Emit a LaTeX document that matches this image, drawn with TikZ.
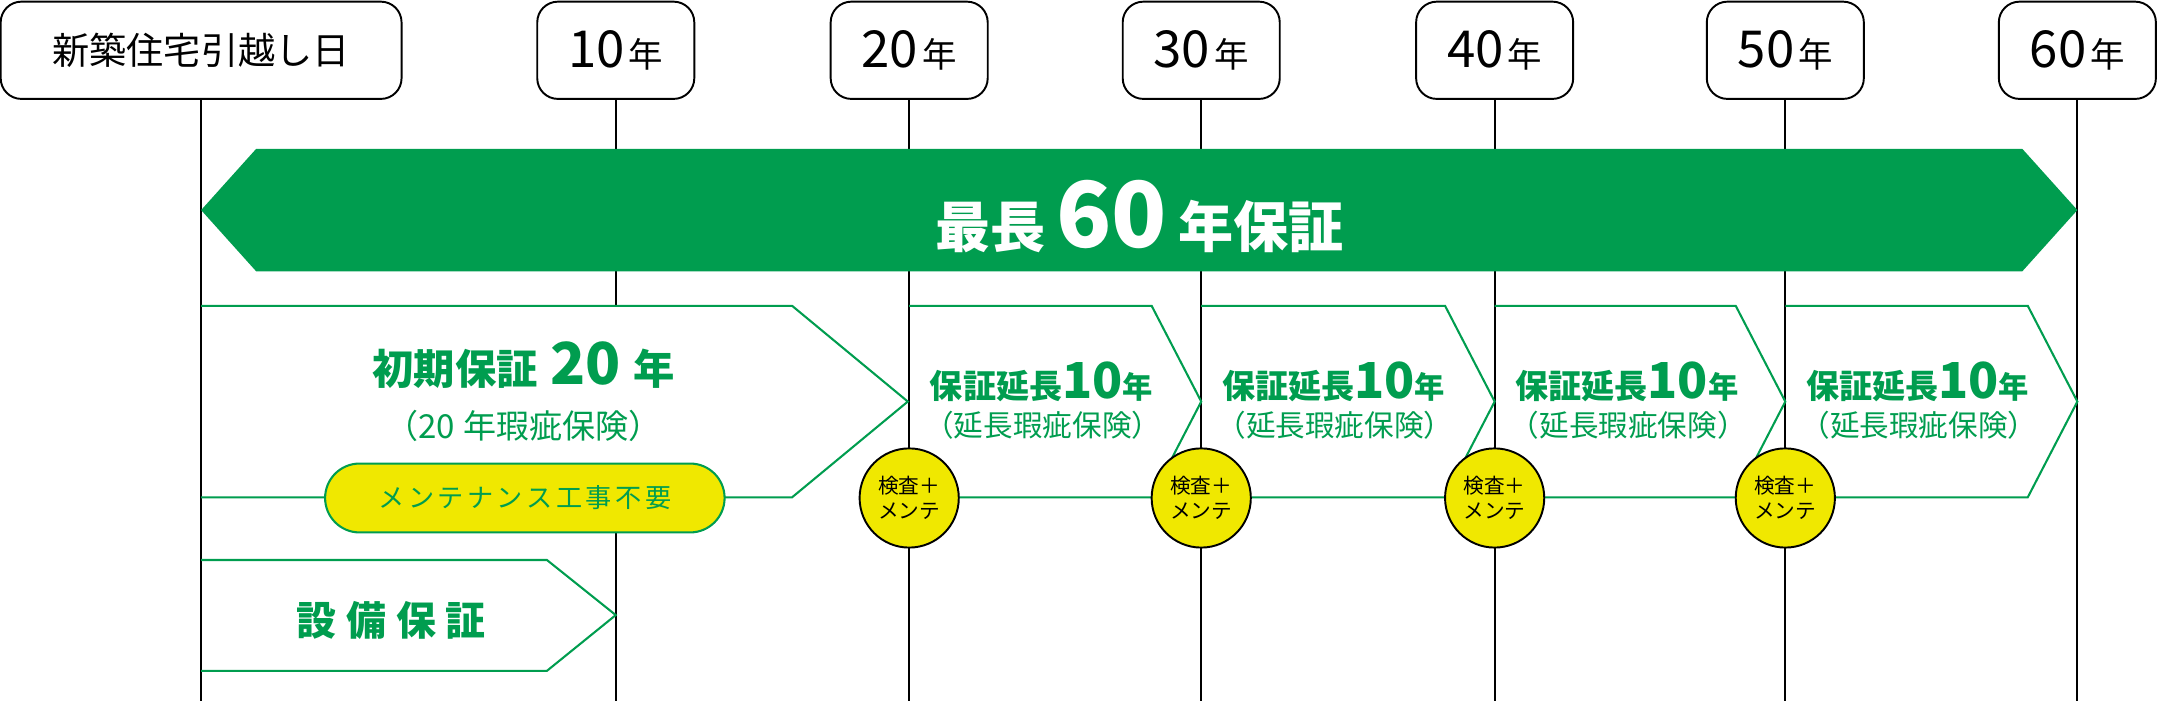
\documentclass[tikz,border=0pt]{standalone}
\usepackage{fontspec}
\setmainfont{Noto Sans CJK JP}
\definecolor{brandgreen}{RGB}{0,157,79}
\definecolor{markyellow}{RGB}{240,232,0}
\newcommand{\fs}[1]{\fontsize{#1}{#1}\selectfont}
\begin{document}
\begin{tikzpicture}[x=1pt,y=-1pt,
  hdr/.style={draw=black, line width=1.4pt, rounded corners=15pt, minimum height=70.6pt, inner sep=0pt, fill=white},
  vline/.style={draw=black, line width=1.4pt},
  gline/.style={draw=brandgreen, line width=1.5pt, line join=miter},
  gtext/.style={text=brandgreen, inner sep=0pt, anchor=base},
  chk/.style={circle, draw=black, line width=1.4pt, fill=markyellow, minimum size=72pt, inner sep=0pt, align=center, font={\fontsize{15}{18}\selectfont}, text=black},
  capsule/.style={draw=brandgreen, line width=1.5pt, fill=markyellow, rounded corners=25pt, minimum width=290pt, minimum height=50pt, inner sep=0pt, text=brandgreen, font={\fs{19}}}
]
\useasboundingbox (0,0) rectangle (1568,509);

% header boxes
\node[hdr, minimum width=291pt, font={\fs{27}}] (h0) at (146,36.5) {新築住宅引越し日};
\coordinate (e0) at (146,509);
\foreach \n/\x in {1/447,2/660,3/872,4/1085,5/1296,6/1508} {
  \node[hdr, minimum width=114pt] (h\n) at (\x,36.5) {{\fs{37}\n0}\hspace{3pt}{\fs{25}年}};
  \coordinate (e\n) at (\x,509);
}
% vertical time lines
\foreach \n in {0,...,6} \draw[vline] (h\n.south) -- (e\n);

% main band
\fill[brandgreen] (146,152.5) -- (186,108) -- (1468,108) -- (1508,152.5) -- (1468,197) -- (186,197) -- cycle;
\node[anchor=base, text=white, inner sep=0pt] (bandtxt) at (827,180)
  {\bfseries\fs{40}最長\hspace{8pt}{\fs{66}60}\hspace{8pt}年保証};

% initial guarantee
\fill[white] (147.5,222) -- (575,222) -- (659,291.5) -- (575,361) -- (147.5,361) -- cycle;
\draw[gline] (146,222) -- (575,222) -- (659,291.5) -- (575,361) -- (146,361);
\node[gtext] (init) at (380,279) {\bfseries\fs{30}初期保証\hspace{9pt}{\fs{42}20}\hspace{9pt}年};
\node[gtext] (initsub) at (380,318) {\fs{24}（20\hspace{6pt}年瑕疵保険）};
\node[capsule] (cap) at (381,361.5) {メ\hspace{2.5pt}ン\hspace{2.5pt}テ\hspace{2.5pt}ナ\hspace{2.5pt}ン\hspace{2.5pt}ス\hspace{2.5pt}工\hspace{2.5pt}事\hspace{2.5pt}不\hspace{2.5pt}要};

% equipment guarantee
\draw[gline] (146,406.5) -- (397,406.5) -- (447,446.5) -- (397,487) -- (146,487);
\node[gtext] (equip) at (284,461) {\bfseries\fs{29}設\hspace{7pt}備\hspace{7pt}保\hspace{7pt}証};

% extensions
\foreach \a/\b in {660/872,872/1085,1085/1296,1296/1508} {
  \draw[gline] (\a,222) -- ({\b-36},222) -- (\b,291.5) -- ({\b-36},361) -- (\a,361);
  \node[gtext] (ext\a) at ({\a+96},289) {\bfseries\fs{24}保証延長{\fs{36}10}{\fs{22}年}};
  \node[gtext] (extsub\a) at ({\a+97},316.5) {\fs{21.5}（延長瑕疵保険）};
}
% inspection marks
\foreach \n/\x in {2/660,3/872,4/1085,5/1296}
  \node[chk] (c\n) at (\x,361.5) {検査＋\\メンテ};
\end{tikzpicture}
\end{document}
